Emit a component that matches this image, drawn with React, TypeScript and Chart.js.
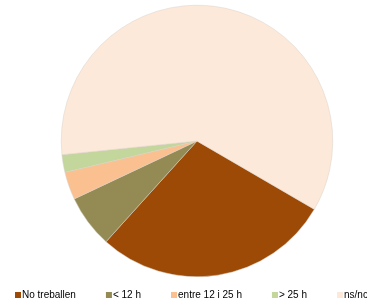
import React, { useEffect, useRef } from "react";
import { Chart, registerables } from "chart.js";

Chart.register(...registerables);

const labels = ["No treballen", "< 12 h", "entre 12 i 25 h", "> 25 h", "ns/nc"];
const values = [28.3, 6.3, 3.3, 2.1, 60.0];
const colors = ["#9C4A06", "#948A54", "#FAC090", "#C3D69B", "#FDE9D9"];

const legendPlugin = {
  id: "customLegend",
  afterDraw(chart: any) {
    const ctx = chart.ctx;
    ctx.save();
    ctx.font = "10px 'Liberation Sans', Arial, sans-serif";
    ctx.textBaseline = "middle";
    ctx.textAlign = "left";
    let x = 15;
    const y = 295;
    labels.forEach((l, i) => {
      ctx.fillStyle = colors[i];
      ctx.fillRect(x, y - 3, 6, 6);
      ctx.fillStyle = "#000";
      ctx.fillText(l, x + 7, y);
      x += 7 + ctx.measureText(l).width + 30;
    });
    ctx.restore();
  },
};

export default function App() {
  const ref = useRef<HTMLCanvasElement>(null);
  useEffect(() => {
    document.body.style.margin = "0";
    const chart = new Chart(ref.current!, {
      type: "pie",
      data: {
        labels,
        datasets: [
          {
            data: values,
            backgroundColor: colors,
            borderColor: "#d8d0c8",
            borderWidth: 0.5,
          },
        ],
      },
      options: {
        animation: false,
        responsive: false,
        rotation: 120.2,
        layout: { padding: { top: 5, bottom: 23, left: 27, right: 0 } },
        plugins: { legend: { display: false }, tooltip: { enabled: false } },
      },
      plugins: [legendPlugin],
    });
    return () => chart.destroy();
  }, []);
  return <canvas ref={ref} width={367} height={300} style={{ display: "block" }} />;
}
